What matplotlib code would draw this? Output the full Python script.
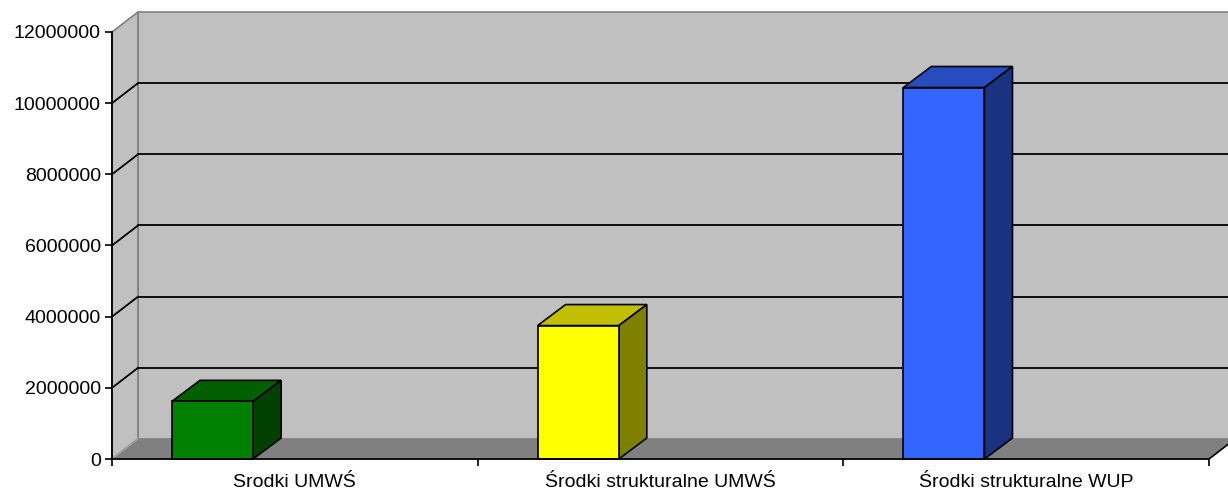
import matplotlib.pyplot as plt
from matplotlib.patches import Polygon
import numpy as np

# dane
categories = ['Srodki UMWŚ', 'Środki strukturalne UMWŚ', 'Środki strukturalne WUP']
values = [1620000, 3750000, 10440000]
front_colors = ['#008000', '#FFFF00', '#3366FF']
top_colors = ['#006000', '#C0C000', '#264CC0']
side_colors = ['#004000', '#808000', '#1A3380']
yticks = [0, 2000000, 4000000, 6000000, 8000000, 10000000, 12000000]

plt.rcParams['font.family'] = ['Liberation Sans', 'DejaVu Sans']

W, H = 1228, 494
fig = plt.figure(figsize=(W / 100, H / 100), dpi=100)
ax = fig.add_axes([112 / W, (H - 459) / H, (1209 - 112) / W, (459 - 32) / H])
ax.set_xlim(0, 3)
ax.set_ylim(0, 12000000)
ax.patch.set_visible(False)

ymax = yticks[-1]


def shift(pts, dx, dy):
    # przesuniecie w glab (piksele ekranu) -> z powrotem do danych
    disp = ax.transData.transform(np.asarray(pts, dtype=float))
    disp = disp + np.array([dx, dy])
    return ax.transData.inverted().transform(disp)


WDX, WDY = 26, 20   # glebokosc scian
BDX, BDY = 28, 21   # glebokosc slupkow


def poly(pts, fc, ec='none', lw=1.0, z=1):
    ax.add_patch(Polygon(pts, closed=True, facecolor=fc, edgecolor=ec,
                         linewidth=lw, clip_on=False, zorder=z,
                         joinstyle='miter'))


# sciana tylna i boczna
back = shift([[0, 0], [3, 0], [3, ymax], [0, ymax]], WDX, WDY)
poly(back, '#C0C0C0', '#808080', 1.2, z=1)
side = np.vstack([[[0, 0]], shift([[0, 0], [0, ymax]], WDX, WDY), [[0, ymax]]])
poly(side, '#C0C0C0', '#808080', 1.2, z=1)

# podloga
floor_back = shift([[3, 0], [0, 0]], WDX, WDY)
poly(np.vstack([[[0, 0], [3, 0]], floor_back]), '#808080', z=2)
ax.plot([0, floor_back[1][0]], [0, floor_back[1][1]], color='#A0A0A0',
        lw=1.0, clip_on=False, zorder=3)
ax.plot([3, floor_back[0][0]], [0, floor_back[0][1]], color='black',
        lw=1.2, clip_on=False, zorder=3)

# linie siatki
for v in yticks[1:-1]:
    b0, b1 = shift([[0, v], [3, v]], WDX, WDY)
    ax.plot([0, b0[0]], [v, b0[1]], color='black', lw=1.3, clip_on=False, zorder=3)
    ax.plot([b0[0], b1[0]], [b0[1], b1[1]], color='black', lw=1.3,
            clip_on=False, zorder=3)

# slupki 3D
for i, v in enumerate(values):
    x0, x1 = i + 0.164, i + 0.386
    front = [[x0, 0], [x1, 0], [x1, v], [x0, v]]
    top_back = shift([[x1, v], [x0, v]], BDX, BDY)
    side_back = shift([[x1, 0], [x1, v]], BDX, BDY)
    poly(np.vstack([[[x0, v], [x1, v]], top_back]), top_colors[i], 'black', 1.2, z=5)
    poly(np.vstack([[[x1, 0]], side_back, [[x1, v]]]), side_colors[i], 'black', 1.2, z=5)
    poly(front, front_colors[i], 'black', 1.2, z=6)

# osie
for s in ['top', 'right']:
    ax.spines[s].set_visible(False)
for s in ['left', 'bottom']:
    ax.spines[s].set_color('black')
    ax.spines[s].set_linewidth(1.3)
    ax.spines[s].set_zorder(7)

ax.set_yticks(yticks)
ax.set_yticklabels([str(t) for t in yticks])
ax.tick_params(axis='y', direction='out', length=5, width=1.2, pad=3,
               labelsize=14, colors='black')

ax.set_xticks([0, 1, 2, 3])
ax.set_xticklabels([])
ax.set_xticks([0.5, 1.5, 2.5], minor=True)
ax.set_xticklabels(categories, minor=True)
ax.tick_params(axis='x', which='major', direction='out', length=5, width=1.2)
ax.tick_params(axis='x', which='minor', length=0, pad=11, labelsize=14)

fig.savefig('out.png', dpi=100)
